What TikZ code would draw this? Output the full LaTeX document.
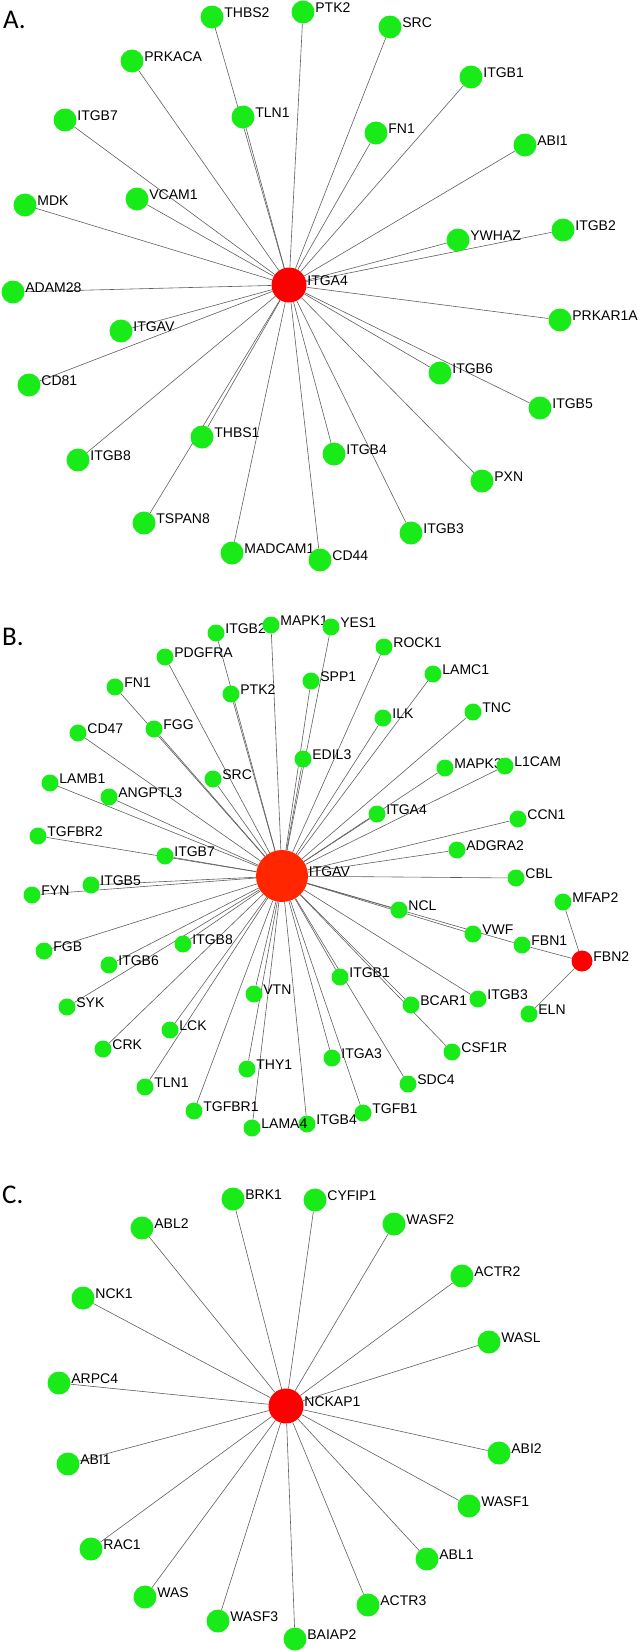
\documentclass[tikz,border=0pt]{standalone}
\usepackage{fontspec}
\setmainfont{Liberation Sans}
\newfontfamily\panelfont{Carlito}
\usetikzlibrary{backgrounds}
\definecolor{ngreen}{RGB}{25,235,25}
\definecolor{nred}{RGB}{255,0,0}
\definecolor{nredb}{RGB}{255,38,0}
\definecolor{edgegray}{RGB}{95,95,95}
\tikzset{
  gbig/.style={circle, fill=ngreen, inner sep=0pt, minimum size=23pt},
  gsmall/.style={circle, fill=ngreen, inner sep=0pt, minimum size=17pt},
  hub/.style={circle, fill=nred, inner sep=0pt, minimum size=35pt},
  lab/.style={font=\fontsize{14}{16}\selectfont, inner sep=0pt, label distance=0.5pt, yshift=4.5pt, text height=10pt, text depth=0pt},
  panel/.style={font=\panelfont\fontsize{27}{30}\selectfont, inner sep=0pt, anchor=base west},
  edge/.style={draw=edgegray, line width=0.6pt}
}
\begin{document}
\begin{tikzpicture}[x=1pt,y=-1pt]
\useasboundingbox (0,0) rectangle (641,1652);

% ---------------- Panel A ----------------
\node[panel] (labA) at (3,28) {A.};
\node[hub, label={[lab]0:ITGA4}] (aITGA4) at (289,285) {};
\foreach \n/\x/\y in {THBS2/212/17, PTK2/303/12, SRC/390/27, PRKACA/132/61, ITGB1/471/77,
  ITGB7/65/120, TLN1/243/117, FN1/376/133, ABI1/525/145, MDK/25/205, VCAM1/137/199,
  YWHAZ/458/240, ITGB2/563/230, ADAM28/13/292, PRKAR1A/560/320, ITGAV/121/331,
  CD81/29/385, ITGB6/440/373, ITGB5/540/408, THBS1/202/437, ITGB8/78/460, ITGB4/334/454,
  PXN/482/481, TSPAN8/144/523, ITGB3/411/533, MADCAM1/232/553, CD44/320/560}
  {\node[gbig, label={[lab]0:\n}] (a\n) at (\x,\y) {};}
\begin{scope}[on background layer]
\foreach \n in {THBS2, PTK2, SRC, PRKACA, ITGB1, ITGB7, TLN1, FN1, ABI1, MDK, VCAM1,
  YWHAZ, ITGB2, ADAM28, PRKAR1A, ITGAV, CD81, ITGB6, ITGB5, THBS1, ITGB8, ITGB4,
  PXN, TSPAN8, ITGB3, MADCAM1, CD44}
  {\draw[edge] (aITGA4) -- (a\n);}
\end{scope}

% ---------------- Panel B ----------------
\node[panel] (labB) at (2,645) {B.};
\node[hub, fill=nredb, minimum size=52pt, label={[lab]0:ITGAV}] (bITGAV) at (282,876) {};
\node[hub, minimum size=21pt, label={[lab]0:FBN2}] (bFBN2) at (582,961) {};
\foreach \n/\x/\y in {ITGB2/216/633, MAPK1/271/625, YES1/331/627, ROCK1/384/647,
  PDGFRA/165/657, LAMC1/433/674, FN1/115/687, SPP1/311/681, PTK2/231/694, TNC/473/712,
  ILK/383/718, CD47/78/733, FGG/154/729, EDIL3/303/759, MAPK3/445/768, L1CAM/505/766,
  LAMB1/50/783, SRC/213/779, ANGPTL3/109/797, ITGA4/377/814, CCN1/518/819,
  TGFBR2/38/836, ADGRA2/457/850, ITGB7/165/856, CBL/516/878, ITGB5/91/885, FYN/32/895,
  MFAP2/563/902, NCL/399/910, VWF/473/934, FBN1/522/945, ITGB8/183/944, FGB/44/951,
  ITGB6/109/965, ITGB1/340/977, VTN/254/994, BCAR1/411/1005, ITGB3/478/999, SYK/67/1007,
  ELN/529/1014, LCK/170/1030, CRK/103/1049, CSF1R/452/1052, ITGA3/332/1058, THY1/247/1069,
  SDC4/408/1084, TLN1/145/1087, TGFBR1/194/1111, TGFB1/363/1113, ITGB4/307/1124,
  LAMA4/252/1128}
  {\node[gsmall, label={[lab]0:\n}] (b\n) at (\x,\y) {};}
\begin{scope}[on background layer]
\foreach \n in {ITGB2, MAPK1, YES1, ROCK1, PDGFRA, LAMC1, FN1, SPP1, PTK2, TNC, ILK,
  CD47, FGG, EDIL3, MAPK3, L1CAM, LAMB1, SRC, ANGPTL3, ITGA4, CCN1, TGFBR2, ADGRA2,
  ITGB7, CBL, ITGB5, FYN, NCL, VWF, FBN1, ITGB8, FGB, ITGB6, ITGB1, VTN, BCAR1,
  ITGB3, SYK, LCK, CRK, CSF1R, ITGA3, THY1, SDC4, TLN1, TGFBR1, TGFB1, ITGB4, LAMA4}
  {\draw[edge] (bITGAV) -- (b\n);}
\draw[edge] (bFBN2) -- (bFBN1);
\draw[edge] (bFBN2) -- (bMFAP2);
\draw[edge] (bFBN2) -- (bELN);
\end{scope}

% ---------------- Panel C ----------------
\node[panel] (labC) at (2,1203) {C.};
\node[hub, label={[lab]0:NCKAP1}] (cNCKAP1) at (286,1406) {};
\foreach \n/\x/\y in {BRK1/233/1199, CYFIP1/315/1200, ABL2/142/1228, WASF2/394/1224,
  ACTR2/462/1276, NCK1/83/1298, WASL/489/1342, ARPC4/59/1383, ABI1/68/1464,
  ABI2/499/1453, WASF1/469/1506, RAC1/91/1549, ABL1/427/1559, WAS/145/1597,
  ACTR3/368/1605, WASF3/218/1621, BAIAP2/295/1639}
  {\node[gbig, label={[lab]0:\n}] (c\n) at (\x,\y) {};}
\begin{scope}[on background layer]
\foreach \n in {BRK1, CYFIP1, ABL2, WASF2, ACTR2, NCK1, WASL, ARPC4, ABI1, ABI2,
  WASF1, RAC1, ABL1, WAS, ACTR3, WASF3, BAIAP2}
  {\draw[edge] (cNCKAP1) -- (c\n);}
\end{scope}
\end{tikzpicture}
\end{document}
